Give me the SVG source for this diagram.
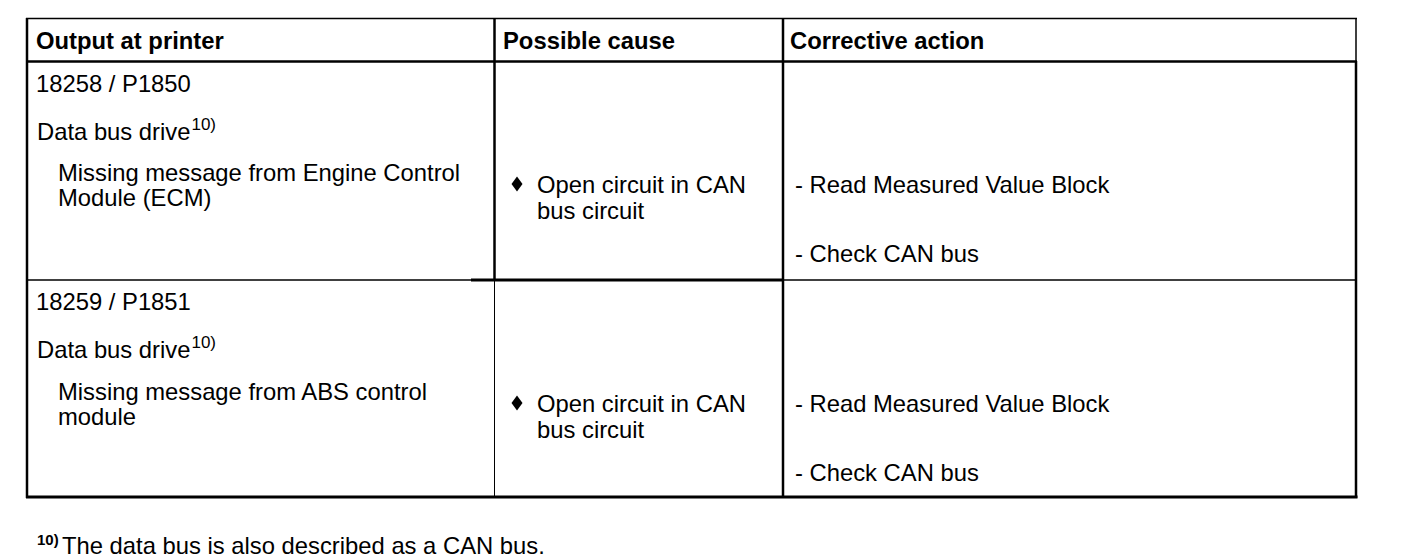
<svg xmlns="http://www.w3.org/2000/svg" width="1408" height="558" viewBox="0 0 1408 558">
<style>
text{font-family:"Liberation Sans",Arial,sans-serif;font-size:23.8px;fill:#000}
.h{font-weight:bold}
.sup{font-size:17px}
.thin{stroke:#000;stroke-width:1.5;fill:none}
.thick{stroke:#000;stroke-width:2.5;fill:none}
.heavy{stroke:#000;stroke-width:3;fill:none}
</style>
<defs>
<path id="diamond" d="M0,-7.5 L5.5,0 L0,7.5 L-5.5,0 Z" fill="#000"/>
</defs>
<rect width="1408" height="558" fill="#fff"/>
<g id="grid">
<line class="thin" x1="26" y1="18.5" x2="1357" y2="18.5"/>
<line class="thick" x1="27" y1="18" x2="27" y2="498"/>
<line class="thin" x1="1356" y1="18" x2="1356" y2="62"/>
<line class="thick" x1="1356" y1="61" x2="1356" y2="498"/>
<line class="heavy" x1="26" y1="497" x2="1357.5" y2="497"/>
<line class="thick" x1="26" y1="61.5" x2="1357" y2="61.5"/>
<line class="thick" x1="494.5" y1="18" x2="494.5" y2="281"/>
<line class="thin" x1="494.5" y1="280" x2="494.5" y2="497" style="stroke-width:1"/>
<line class="thick" x1="783" y1="18" x2="783" y2="497"/>
<line class="thin" x1="26" y1="280" x2="471" y2="280"/>
<line class="heavy" x1="471" y1="280" x2="783" y2="280"/>
<line class="thin" x1="783" y1="280" x2="1356" y2="280"/>
</g>
<g id="header">
<text class="h" x="36" y="48.5">Output at printer</text>
<text class="h" x="503" y="48.5">Possible cause</text>
<text class="h" x="790" y="48.5">Corrective action</text>
</g>
<g id="row1">
<text x="36" y="91.5">18258 / P1850</text>
<text x="37" y="140">Data bus drive<tspan class="sup" dx="1" dy="-10">10)</tspan></text>
<text x="58" y="180.5">Missing message from Engine Control</text>
<text x="58" y="205.5">Module (ECM)</text>
<use href="#diamond" x="517" y="184"/>
<text x="537" y="192.5">Open circuit in CAN</text>
<text x="537" y="218.5">bus circuit</text>
<text x="795" y="192.5">- Read Measured Value Block</text>
<text x="795" y="261.5">- Check CAN bus</text>
</g>
<g id="row2">
<text x="36" y="309.5">18259 / P1851</text>
<text x="37" y="357.5">Data bus drive<tspan class="sup" dx="1" dy="-10">10)</tspan></text>
<text x="58" y="399.5">Missing message from ABS control</text>
<text x="58" y="424.5">module</text>
<use href="#diamond" x="517" y="403"/>
<text x="537" y="411.5">Open circuit in CAN</text>
<text x="537" y="437.5">bus circuit</text>
<text x="795" y="411.5">- Read Measured Value Block</text>
<text x="795" y="480.5">- Check CAN bus</text>
</g>
<g id="footnote">
<text class="h" x="37" y="545" style="font-size:15px">10)</text>
<text x="62" y="554">The data bus is also described as a CAN bus.</text>
</g>
</svg>
